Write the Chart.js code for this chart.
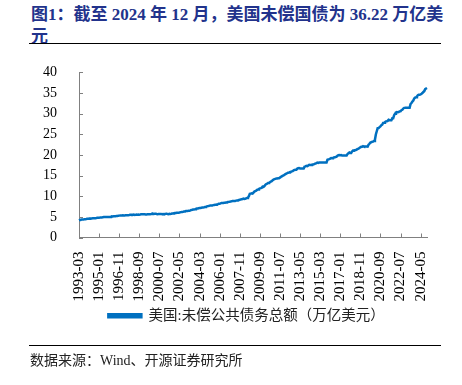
<!DOCTYPE html>
<html>
<head>
<meta charset="utf-8">
<script src="https://cdn.jsdelivr.net/npm/chart.js"></script>
<style>
  body { margin: 0; width: 462px; height: 385px; background: #fff; position: relative; overflow: hidden; }
  .title { position: absolute; left: 31px; top: 4px; font: bold 17px "Liberation Serif", "Noto Sans CJK SC", serif; color: #22338c; line-height: 22px; white-space: nowrap; }
  .rule { position: absolute; left: 29px; width: 412px; height: 1px; background: #000; }
  .source { position: absolute; left: 30px; top: 349px; font: 14px "Liberation Serif", "Noto Sans CJK SC", serif; color: #222; }
  #wrap { position: absolute; left: 0; top: 50px; width: 462px; height: 298px; }
</style>
</head>
<body>
<div class="title">图1：截至 2024 年 12 月，美国未偿国债为 36.22 万亿美<br>元</div>
<div class="rule" style="top:43px"></div>
<div id="wrap"><canvas id="c"></canvas></div>
<div class="rule" style="top:345px"></div>
<div class="source">数据来源：Wind、开源证券研究所</div>
<script>
// monthly, 1993-03 .. 2024-12 (trillion USD)
const y1993 = [4.23, 4.24, 4.30, 4.35, 4.36, 4.39, 4.41, 4.42, 4.47, 4.54];
const y1994 = [4.53, 4.56, 4.58, 4.58, 4.62, 4.65, 4.66, 4.69, 4.69, 4.72, 4.77, 4.80];
const y1995 = [4.80, 4.83, 4.86, 4.86, 4.88, 4.95, 4.95, 4.97, 4.97, 4.99, 4.99, 4.99];
const y1996 = [4.99, 5.02, 5.12, 5.10, 5.13, 5.16, 5.17, 5.20, 5.22, 5.26, 5.30, 5.32];
const y1997 = [5.31, 5.34, 5.38, 5.33, 5.35, 5.38, 5.37, 5.41, 5.41, 5.44, 5.50, 5.50];
const y1998 = [5.49, 5.52, 5.54, 5.48, 5.50, 5.55, 5.53, 5.56, 5.53, 5.56, 5.61, 5.61];
const y1999 = [5.61, 5.62, 5.65, 5.59, 5.60, 5.64, 5.64, 5.66, 5.66, 5.68, 5.71, 5.78];
const y2000 = [5.71, 5.74, 5.77, 5.69, 5.65, 5.69, 5.67, 5.68, 5.67, 5.66, 5.71, 5.66];
const y2001 = [5.71, 5.73, 5.77, 5.66, 5.64, 5.73, 5.72, 5.75, 5.81, 5.82, 5.89, 5.94];
const y2002 = [5.94, 6.01, 6.01, 5.98, 6.02, 6.13, 6.16, 6.20, 6.23, 6.28, 6.34, 6.41];
const y2003 = [6.40, 6.44, 6.46, 6.46, 6.56, 6.67, 6.71, 6.78, 6.78, 6.87, 6.94, 7.00];
const y2004 = [7.01, 7.08, 7.13, 7.13, 7.20, 7.27, 7.29, 7.33, 7.38, 7.43, 7.53, 7.60];
const y2005 = [7.63, 7.71, 7.78, 7.77, 7.78, 7.84, 7.88, 7.92, 7.93, 8.03, 8.09, 8.17];
const y2006 = [8.20, 8.27, 8.37, 8.35, 8.36, 8.42, 8.42, 8.50, 8.51, 8.59, 8.63, 8.68];
const y2007 = [8.71, 8.77, 8.85, 8.84, 8.86, 8.87, 8.93, 8.99, 9.01, 9.08, 9.14, 9.23];
const y2008 = [9.24, 9.32, 9.44, 9.36, 9.38, 9.49, 9.59, 9.65, 10.02, 10.57, 10.64, 10.70];
const y2009 = [10.63, 10.88, 11.13, 11.24, 11.35, 11.55, 11.66, 11.78, 11.91, 11.97, 12.04, 12.31];
const y2010 = [12.28, 12.45, 12.77, 12.95, 13.03, 13.20, 13.24, 13.40, 13.56, 13.67, 13.86, 14.03];
const y2011 = [14.13, 14.20, 14.27, 14.29, 14.34, 14.34, 14.34, 14.68, 14.79, 14.97, 15.03, 15.22];
const y2012 = [15.36, 15.49, 15.58, 15.69, 15.77, 15.86, 15.93, 16.02, 16.07, 16.26, 16.37, 16.43];
const y2013 = [16.43, 16.69, 16.77, 16.83, 16.74, 16.74, 16.74, 16.74, 16.74, 17.16, 17.22, 17.35];
const y2014 = [17.29, 17.46, 17.60, 17.55, 17.56, 17.63, 17.69, 17.75, 17.82, 17.94, 18.01, 18.14];
const y2015 = [18.08, 18.15, 18.15, 18.15, 18.15, 18.15, 18.15, 18.15, 18.15, 18.15, 18.83, 18.92];
const y2016 = [19.01, 19.13, 19.26, 19.19, 19.27, 19.38, 19.43, 19.51, 19.57, 19.80, 19.95, 19.98];
const y2017 = [19.94, 19.96, 19.85, 19.85, 19.85, 19.85, 19.85, 19.85, 20.24, 20.44, 20.59, 20.49];
const y2018 = [20.49, 20.86, 21.09, 21.07, 21.15, 21.20, 21.31, 21.46, 21.52, 21.70, 21.85, 21.97];
const y2019 = [21.98, 22.12, 22.03, 22.03, 22.03, 22.03, 22.02, 22.46, 22.72, 23.01, 23.08, 23.20];
const y2020 = [23.22, 23.41, 23.69, 24.97, 25.75, 26.48, 26.52, 26.73, 26.95, 27.19, 27.33, 27.75];
const y2021 = [27.78, 27.95, 28.13, 28.17, 28.25, 28.53, 28.43, 28.43, 28.43, 28.91, 28.91, 29.62];
const y2022 = [30.01, 30.29, 30.40, 30.37, 30.40, 30.57, 30.60, 30.84, 30.93, 31.24, 31.41, 31.42];
const y2023 = [31.46, 31.46, 31.46, 31.46, 31.46, 32.33, 32.61, 32.92, 33.17, 33.70, 33.88, 34.00];
const y2024 = [34.19, 34.47, 34.59, 34.61, 34.67, 34.83, 35.00, 35.26, 35.46, 35.95, 36.09, 36.22];

const debt = [].concat(y1993, y1994, y1995, y1996, y1997, y1998, y1999, y2000, y2001, y2002,
  y2003, y2004, y2005, y2006, y2007, y2008, y2009, y2010, y2011, y2012, y2013, y2014,
  y2015, y2016, y2017, y2018, y2019, y2020, y2021, y2022, y2023, y2024);

const months = [];
for (let y = 1993; y <= 2024; y++) {
  for (let m = (y === 1993 ? 3 : 1); m <= 12; m++) months.push(y + '-' + String(m).padStart(2, '0'));
}
const seriesName = '美国:未偿公共债务总额（万亿美元）';
const labelStep = 22;

const axisGrey = '#808080';
const blue = '#0070c0';

// small inward tick marks on both axes, plus a nudge of the legend to the right
const innerTicks = {
  id: 'innerTicks',
  afterLayout(chart) {
    chart.legend.left += 33;
    chart.legend.right += 33;
  },
  afterDraw(chart) {
    const { ctx, chartArea, scales } = chart;
    ctx.save();
    ctx.strokeStyle = axisGrey;
    ctx.lineWidth = 1;
    ctx.beginPath();
    scales.y.ticks.forEach(t => {
      const py = Math.round(scales.y.getPixelForValue(t.value)) + 0.5;
      ctx.moveTo(chartArea.left, py);
      ctx.lineTo(chartArea.left + 4, py);
    });
    scales.x.ticks.forEach(t => {
      const px = Math.round(scales.x.getPixelForValue(t.value)) + 0.5;
      ctx.moveTo(px, chartArea.bottom);
      ctx.lineTo(px, chartArea.bottom - 4);
    });
    ctx.stroke();
    ctx.restore();
  }
};

new Chart(document.getElementById('c'), {
  type: 'line',
  data: {
    labels: months,
    datasets: [{
      label: seriesName,
      data: debt,
      borderColor: blue,
      backgroundColor: blue,
      borderWidth: 2.5,
      pointRadius: 0,
      tension: 0
    }]
  },
  options: {
    responsive: true,
    maintainAspectRatio: false,
    animation: false,
    layout: { padding: { left: 0, right: 35, top: 4, bottom: 15 } },
    plugins: {
      legend: {
        position: 'bottom',
        labels: {
          boxWidth: 33,
          boxHeight: 3,
          padding: 1,
          color: '#222',
          font: { family: '"Liberation Serif", "Noto Sans CJK SC", serif', size: 14.5 }
        }
      },
      tooltip: { enabled: false }
    },
    scales: {
      x: {
        offset: false,
        grid: { display: false },
        border: { display: true, color: axisGrey, width: 1 },
        afterBuildTicks: scale => {
          scale.ticks = scale.ticks.filter(t => t.value % labelStep === 0);
        },
        ticks: {
          autoSkip: false,
          minRotation: 90,
          maxRotation: 90,
          padding: 6,
          color: '#000',
          font: { family: '"Liberation Serif", serif', size: 15 }
        }
      },
      y: {
        min: 0,
        max: 40,
        afterFit: scale => { scale.width = 79; },
        grid: { display: false },
        border: { display: true, color: axisGrey, width: 1 },
        ticks: {
          stepSize: 5,
          autoSkip: false,
          padding: 14,
          color: '#000',
          font: { family: '"Liberation Serif", serif', size: 14 }
        }
      }
    }
  },
  plugins: [innerTicks]
});
</script>
</body>
</html>
